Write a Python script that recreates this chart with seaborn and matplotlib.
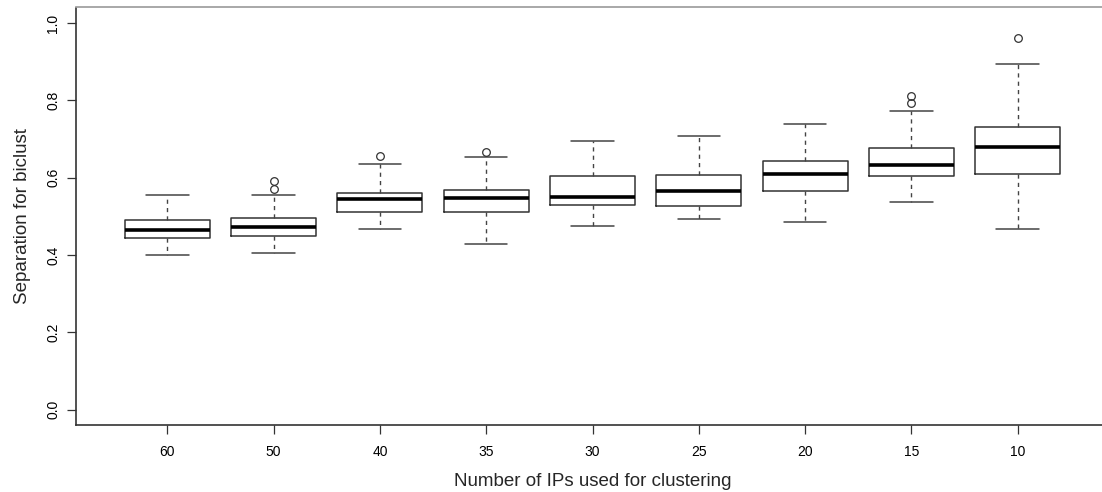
import matplotlib
matplotlib.use("Agg")
from matplotlib import pyplot as plt
import seaborn as sns

# box statistics (R style boxplot)
ip_counts = ["60", "50", "40", "35", "30", "25", "20", "15", "10"]
whisker_lo = [0.399, 0.406, 0.466, 0.427, 0.476, 0.493, 0.486, 0.537, 0.468]
q1 = [0.443, 0.449, 0.510, 0.511, 0.530, 0.527, 0.565, 0.603, 0.610]
median = [0.464, 0.473, 0.545, 0.548, 0.551, 0.566, 0.609, 0.632, 0.678]
q3 = [0.490, 0.495, 0.560, 0.569, 0.603, 0.606, 0.642, 0.677, 0.730]
whisker_hi = [0.554, 0.554, 0.634, 0.654, 0.694, 0.707, 0.739, 0.771, 0.895]
outliers = [[], [0.571, 0.592], [0.655], [0.666], [], [], [], [0.793, 0.810], [0.961]]

sns.set_style("white")
plt.rcParams['font.family'] = ['Liberation Sans', 'DejaVu Sans']

stats = []
for i in range(len(ip_counts)):
	stats.append({'label': ip_counts[i], 'whislo': whisker_lo[i], 'q1': q1[i],
		'med': median[i], 'q3': q3[i], 'whishi': whisker_hi[i], 'fliers': outliers[i]})

fig = plt.figure(figsize=(11.02, 4.92), dpi=100)
ax = fig.add_axes([76/1102, 67/492, 1033/1102, 417.5/492])

ax.bxp(stats, positions=range(len(stats)), widths=0.8, showfliers=True,
	boxprops=dict(color='#333333', linewidth=1.1),
	medianprops=dict(color='black', linewidth=2.6, solid_capstyle='butt'),
	whiskerprops=dict(color='#444444', linewidth=1.0, linestyle=(0, (3, 3))),
	capprops=dict(color='#444444', linewidth=1.1),
	capwidths=0.4,
	flierprops=dict(marker='o', markersize=5.5, markerfacecolor='none',
		markeredgecolor='#333333', markeredgewidth=0.9))

ax.set_xlim(-0.86, 8.86)
ax.set_ylim(-0.04, 1.04)
ax.set_yticks([0.0, 0.2, 0.4, 0.6, 0.8, 1.0])
ax.set_yticklabels(['0.0', '0.2', '0.4', '0.6', '0.8', '1.0'], rotation=90, va='center')
ax.set_xticks(range(len(ip_counts)))
ax.set_xticklabels(ip_counts)
ax.tick_params(axis='both', direction='out', length=6.5, width=0.9, colors='#333333',
	labelsize=10, labelcolor='black', bottom=True, left=True)
ax.tick_params(axis='x', pad=8)
ax.tick_params(axis='y', pad=5)

for side in ['left', 'bottom', 'top', 'right']:
	ax.spines[side].set_visible(True)
	ax.spines[side].set_linewidth(1.2)
	ax.spines[side].set_color('#333333')
ax.spines['top'].set_color('#999999')

ax.set_xlabel('Number of IPs used for clustering', fontsize=13.5, labelpad=10)
ax.set_ylabel('Separation for biclust', fontsize=13.5, labelpad=11)

plt.savefig('out.png', dpi=100)
